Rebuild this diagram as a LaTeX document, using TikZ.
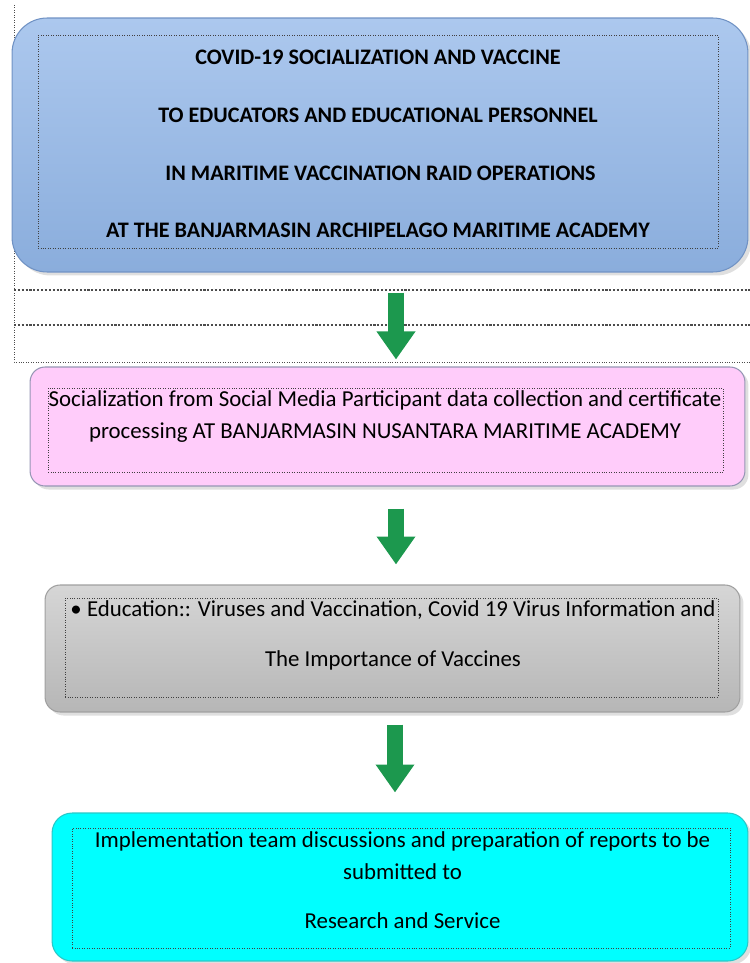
\documentclass[tikz,border=0pt]{standalone}
\usepackage{fontspec}
\setmainfont{Carlito}
\usetikzlibrary{arrows.meta,shadows}

\definecolor{titletop}{RGB}{172,200,238}
\definecolor{titlebot}{RGB}{138,173,220}
\definecolor{titleedge}{RGB}{112,146,196}
\definecolor{socialfill}{RGB}{255,204,250}
\definecolor{socialedge}{RGB}{150,150,180}
\definecolor{edutop}{RGB}{214,214,214}
\definecolor{edubot}{RGB}{182,182,182}
\definecolor{eduedge}{RGB}{160,160,160}
\definecolor{reportfill}{RGB}{0,255,255}
\definecolor{reportedge}{RGB}{40,200,200}
\definecolor{flowgreen}{RGB}{28,152,78}

\begin{document}
\begin{tikzpicture}[x=0.02cm,y=-0.02cm]

	\tikzstyle outer box=[rounded corners=0.3cm, inner sep=0pt, line width=0.6pt,
		drop shadow={opacity=0.25, shadow xshift=2pt, shadow yshift=-2pt}];
	\tikzstyle inner frame=[draw=black!75, densely dotted, inner sep=0pt];
	\tikzstyle frame line=[densely dotted, black!70];
	\tikzstyle title text=[font=\fontsize{12.6}{32.9}\selectfont\bfseries, align=center];
	\tikzstyle body text=[font=\fontsize{13}{18.7}\selectfont, align=center];
	\tikzstyle flow arrow=[line width=0.32cm, draw=flowgreen,
		-{Triangle[width=0.74cm,length=0.56cm]}];

	\useasboundingbox (0,0) rectangle (750,963);

	% text box frame of the heading
	\draw[frame line] (14,5) -- (14,362) -- (750,362);
	\draw[frame line, line width=1.2pt] (14,290) -- (750,290);
	\draw[frame line, line width=1.2pt] (14,325) -- (750,325);

	\node[outer box, rounded corners=0.7cm, draw=titleedge, top color=titletop, bottom color=titlebot,
		minimum width=14.72cm, minimum height=5.08cm] (title) at (380,145) {};
	\node[inner frame, minimum width=13.6cm, minimum height=4.26cm] (titleframe) at (378,141.5) {};
	\node[title text] (titletext) at (378,144) {COVID-19 SOCIALIZATION AND VACCINE\\
		TO EDUCATORS AND EDUCATIONAL PERSONNEL\\
		\ IN MARITIME VACCINATION RAID OPERATIONS\\
		AT THE BANJARMASIN ARCHIPELAGO MARITIME ACADEMY};

	\node[outer box, draw=socialedge, fill=socialfill,
		minimum width=14.3cm, minimum height=2.38cm] (social) at (387.5,426.5) {};
	\node[inner frame, minimum width=13.5cm, minimum height=1.68cm] (socialframe) at (385.5,430) {};
	\node[body text] (socialtext) at (385,416.5) {Socialization from Social Media Participant data collection and certificate\\
		processing AT BANJARMASIN NUSANTARA MARITIME ACADEMY};

	\node[outer box, draw=eduedge, top color=edutop, bottom color=edubot,
		minimum width=13.9cm, minimum height=2.54cm] (edu) at (392.5,648.5) {};
	\node[inner frame, minimum width=13.06cm, minimum height=1.98cm] (eduframe) at (391.5,647.5) {};
	\node[body text, font=\fontsize{13}{28.4}\selectfont] (edutext) at (393,635) {\textbullet\ Education:: Viruses and Vaccination, Covid 19 Virus Information and\\
		The Importance of Vaccines};

	\node[outer box, rounded corners=0.4cm, draw=reportedge, fill=reportfill,
		minimum width=13.92cm, minimum height=2.96cm] (report) at (400,887) {};
	\node[inner frame, minimum width=13.16cm, minimum height=2.4cm] (reportframe) at (401,888) {};
	\node[body text, font=\fontsize{13}{18.2}\selectfont] (reporttext) at (402.5,880.5) {Implementation team discussions and preparation of reports to be\\
		submitted to\\[9.6pt]
		Research and Service};

	\foreach \a/\b/\dx/\s/\e in {title/social/0.32cm/0.4cm/0.14cm, social/edu/0.17cm/0.44cm/0.4cm, edu/report/0.05cm/0.24cm/0.4cm}
		\draw[flow arrow, shorten <=\s, shorten >=\e] ([xshift=\dx]\a.south) -- ([xshift=\dx]\a.south |- \b.north);

\end{tikzpicture}
\end{document}
